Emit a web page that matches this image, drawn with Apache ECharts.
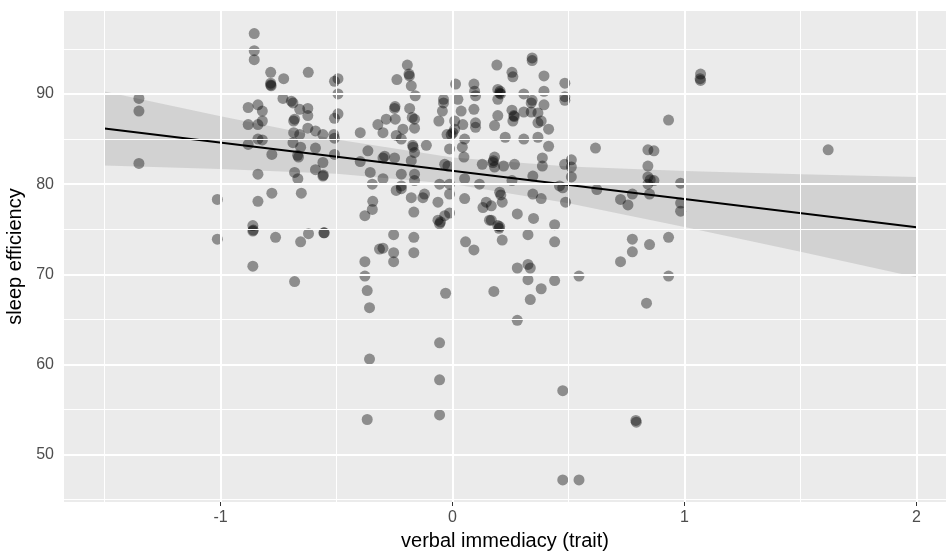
<!DOCTYPE html>
<html>
<head>
<meta charset="utf-8">
<script src="https://cdn.jsdelivr.net/npm/echarts@6/dist/echarts.min.js"></script>
<style>
  html, body { margin: 0; padding: 0; background: #fff; }
  #chart { width: 946px; height: 556px; }
</style>
</head>
<body>
<div id="chart"></div>
<script>
// verbal immediacy (trait) vs sleep efficiency
const immediacy = [
  -1.352, -1.352, -1.352, -1.014, -1.014,
  -0.855, -0.855, -0.855, -0.784, -0.784, -0.784, -0.782, -0.728, -0.622, -0.509, -0.494, -0.494,
  -0.731, -0.695, -0.688, -0.659, -0.624, -0.624, -0.881, -0.839, -0.820, -0.881, -0.839, -0.820,
  -0.681, -0.685, -0.509, -0.494, -0.624, -0.591, -0.559, -0.512, -0.509, -0.685, -0.659,
  -0.881, -0.839, -0.820, -0.688, -0.655, -0.591, -0.779, -0.664, -0.668, -0.559, -0.509,
  -0.591, -0.559, -0.557, -0.681, -0.667, -0.839, -0.779, -0.652, -0.839,
  -0.398, -0.365, -0.398, -0.355, -0.346, -0.322, -0.344,
  -0.861, -0.861, -0.859, -0.763, -0.655, -0.621, -0.555, -0.553, -0.861, -0.681,
  -0.346, -0.378, -0.378, -0.378, -0.368, -0.358, -0.358, -0.368, -0.315,
  -0.195, -0.188, -0.186, -0.240, -0.178, -0.161, -0.250, -0.248, -0.185, -0.247, -0.286,
  -0.300, -0.174, -0.164, -0.214, -0.164, -0.243, -0.221, -0.170, -0.172, -0.113, -0.164,
  -0.293, -0.300, -0.250, -0.178, -0.300, -0.221, -0.221, -0.221, -0.243, -0.164, -0.164,
  -0.178, -0.121, -0.128, -0.063, -0.034, -0.020, -0.056, -0.013, -0.013, 0.052, 0.052,
  0.116, 0.128, 0.013, 0.092, 0.095, 0.099, -0.039, -0.039, -0.044, 0.023, -0.059, 0.037,
  0.092, 0.009, 0.044, 0.099, 0.099, 0.009, 0.001, -0.006, -0.024, 0.052, 0.042, -0.013,
  0.049, 0.145,
  -0.167, -0.063, -0.056, -0.052, -0.034, -0.013, 0.131, 0.159, -0.254, -0.300, -0.254,
  -0.254, -0.167, -0.167, 0.056, 0.092, -0.030, -0.056, -0.056, -0.056,
  0.343, 0.343, 0.191, 0.256, 0.260, 0.394, 0.484, 0.195, 0.203, 0.205, 0.207, 0.195,
  0.307, 0.394, 0.484, 0.484, 0.343, 0.339, 0.394, 0.307, 0.256, 0.264, 0.266, 0.260,
  0.195, 0.181, 0.339, 0.368, 0.368, 0.382, 0.414, 0.227, 0.307, 0.368, 0.414, 0.616,
  0.181, 0.174, 0.176, 0.181, 0.220, 0.267, 0.387, 0.387, 0.483, 0.512, 0.512, 0.512,
  0.346, 0.256, 0.203, 0.208, 0.214, 0.461, 0.475, 0.346, 0.382, 0.487, 0.167,
  0.279, 0.349, 0.440, 0.440, 0.167, 0.195, 0.200, 0.203, 0.214, 0.325, 0.279, 0.325,
  0.335, 0.325, 0.382, 0.335, 0.440, 0.545, 0.178, 0.279, 0.475, 0.475, 0.545,
  1.069, 1.069, 1.067, 0.931, 0.842, 0.868, 1.619, 0.842, 0.842, 0.868, 0.842, 0.852,
  0.983, 0.622, 0.775, 0.724, 0.756, 0.849, 0.983, 0.983, 0.775, 0.849, 0.931, 0.775,
  0.724, 0.931, 0.836, 0.792, 0.790
];
const sleepEff = [
  89.5, 88.1, 82.3, 78.3, 73.9,
  96.7, 94.8, 93.8, 92.4, 91.2, 91.0, 90.9, 91.7, 92.4, 91.4, 91.7, 90.0,
  89.5, 89.2, 89.0, 88.3, 88.4, 87.6, 88.5, 88.8, 88.1, 86.6, 86.6, 87.0,
  87.2, 87.0, 87.3, 87.8, 86.2, 85.9, 85.5, 85.5, 85.1, 85.7, 85.5,
  84.4, 85.0, 84.9, 84.6, 84.1, 84.0, 83.3, 83.0, 83.2, 82.4, 83.3,
  81.6, 80.9, 81.0, 81.3, 80.6, 81.1, 79.0, 79.0, 78.1,
  85.7, 83.7, 82.5, 81.3, 80.0, 86.6, 78.1,
  75.4, 74.8, 74.9, 74.1, 73.6, 74.5, 74.6, 74.6, 70.9, 69.2,
  77.2, 76.5, 71.4, 69.8, 68.2, 66.3, 60.6, 53.9, 72.8,
  93.2, 92.2, 92.0, 91.6, 90.9, 89.8, 88.4, 88.6, 88.4, 87.2, 87.2,
  85.7, 87.4, 87.2, 86.1, 86.2, 85.4, 85.0, 84.1, 84.3, 84.3, 83.5,
  83.1, 82.9, 82.9, 82.6, 80.6, 81.1, 79.8, 79.5, 79.3, 81.1, 80.4,
  78.5, 78.9, 78.5, 78.0, 82.2, 82.0, 80.0, 80.0, 78.9, 80.6, 78.4,
  80.0, 82.2, 91.1, 91.1, 90.3, 89.8, 89.4, 89.0, 88.1, 89.4, 87.0, 88.1,
  88.3, 87.0, 86.6, 86.8, 86.3, 86.1, 85.7, 85.5, 85.5, 85.0, 84.1, 83.9,
  83.0, 78.0,
  76.9, 76.0, 75.6, 75.8, 76.5, 76.8, 77.4, 76.0, 74.4, 72.9, 72.4,
  71.4, 74.1, 72.4, 73.6, 72.7, 67.9, 62.4, 58.3, 54.4,
  94.0, 93.7, 93.2, 92.4, 91.9, 92.0, 91.2, 90.5, 90.1, 90.3, 90.0, 89.4,
  90.0, 90.3, 89.7, 89.3, 89.3, 89.0, 88.8, 88.0, 88.2, 87.6, 87.5, 87.0,
  87.6, 86.5, 88.0, 87.9, 86.8, 87.0, 86.1, 85.2, 85.0, 85.2, 84.2, 84.0,
  83.0, 82.4, 82.6, 81.9, 82.0, 82.2, 82.9, 82.0, 82.2, 82.7, 81.9, 80.8,
  80.9, 80.4, 79.1, 78.8, 78.0, 79.8, 79.6, 78.9, 78.4, 78.0, 77.6,
  76.7, 76.2, 75.5, 73.6, 76.0, 75.4, 75.1, 75.3, 73.8, 74.4, 70.7, 71.1,
  70.7, 69.4, 68.4, 67.2, 69.3, 69.8, 68.1, 64.9, 57.1, 47.2, 47.2,
  92.2, 91.5, 91.7, 87.1, 83.8, 83.7, 83.8, 82.0, 80.8, 80.4, 80.0, 80.5,
  80.1, 79.4, 78.9, 78.3, 77.7, 78.9, 77.9, 77.0, 73.9, 73.3, 74.1, 72.5,
  71.4, 69.8, 66.8, 53.6, 53.8
];

// fitted line and its confidence band
const fitX = [-1.5, 2];
const fitY = [86.17, 75.23];
const bandX = [-1.5, -1, -0.5, 0, 0.5, 1, 1.5, 2];
const bandLo = [82.07, 81.69, 81.14, 80.01, 77.88, 75.25, 72.49, 69.68];
const bandHi = [90.27, 87.53, 84.94, 82.95, 81.96, 81.45, 81.09, 80.78];

// axis ticks
const xMajor = [-1, 0, 1, 2];
const xMinor = [-1.5, -0.5, 0.5, 1.5];
const yMajor = [50, 60, 70, 80, 90];
const yMinor = [45, 55, 65, 75, 85, 95];

const font = "'Liberation Sans', Arial, Helvetica, sans-serif";
const points = immediacy.map((x, i) => [x, sleepEff[i]]);

const gridLines = [].concat(
  xMinor.map(v => ({ xAxis: v, lineStyle: { width: 1 } })),
  yMinor.map(v => ({ yAxis: v, lineStyle: { width: 1 } })),
  xMajor.map(v => ({ xAxis: v, lineStyle: { width: 2 } })),
  yMajor.map(v => ({ yAxis: v, lineStyle: { width: 2 } }))
);

const chart = echarts.init(document.getElementById('chart'));
chart.setOption({
  animation: false,
  grid: {
    left: 64, right: 0, top: 11, bottom: 54,
    outerBoundsMode: 'none', containLabel: false,
    show: true, backgroundColor: '#EBEBEB', borderWidth: 0
  },
  xAxis: {
    type: 'value', min: -1.675, max: 2.127,
    name: 'verbal immediacy (trait)', nameLocation: 'middle', nameGap: 29,
    nameTextStyle: { fontFamily: font, fontSize: 20, color: '#000' },
    axisLine: { show: false },
    axisTick: { show: true, customValues: xMajor, length: 4, lineStyle: { color: '#333', width: 1 } },
    axisLabel: { customValues: xMajor, fontFamily: font, fontSize: 16, color: '#4D4D4D', margin: 8 },
    splitLine: { show: false }
  },
  yAxis: {
    type: 'value', min: 44.75, max: 99.2,
    name: 'sleep efficiency', nameLocation: 'middle', nameGap: 37, nameRotate: 90,
    nameTextStyle: { fontFamily: font, fontSize: 20, color: '#000' },
    axisLine: { show: false },
    axisTick: { show: true, customValues: yMajor, length: 5, lineStyle: { color: '#333', width: 1 } },
    axisLabel: { customValues: yMajor, fontFamily: font, fontSize: 16, color: '#4D4D4D', margin: 10 },
    splitLine: { show: false }
  },
  series: [
    {
      // holder for the panel grid lines
      type: 'scatter', data: [], z: 1, silent: true,
      markLine: {
        silent: true, symbol: ['none', 'none'], label: { show: false },
        lineStyle: { color: '#FFFFFF', type: 'solid' },
        data: gridLines
      }
    },
    {
      type: 'custom', z: 2, silent: true, clip: true,
      data: bandX.map((x, i) => [x, bandLo[i], bandHi[i]]),
      renderItem: function (params, api) {
        if (params.dataIndex !== 0) return;
        const upper = bandX.map((x, i) => api.coord([x, bandHi[i]]));
        const lower = bandX.map((x, i) => api.coord([x, bandLo[i]])).reverse();
        return {
          type: 'polygon',
          shape: { points: upper.concat(lower) },
          style: { fill: 'rgba(153,153,153,0.3)' }
        };
      }
    },
    {
      type: 'scatter', z: 3, silent: true,
      symbol: 'circle', symbolSize: 11,
      itemStyle: { color: 'rgba(0,0,0,0.5)', borderWidth: 0 },
      data: points
    },
    {
      type: 'line', z: 4, silent: true, showSymbol: false,
      lineStyle: { color: '#000', width: 2 },
      data: fitX.map((x, i) => [x, fitY[i]])
    }
  ]
});
</script>
</body>
</html>
